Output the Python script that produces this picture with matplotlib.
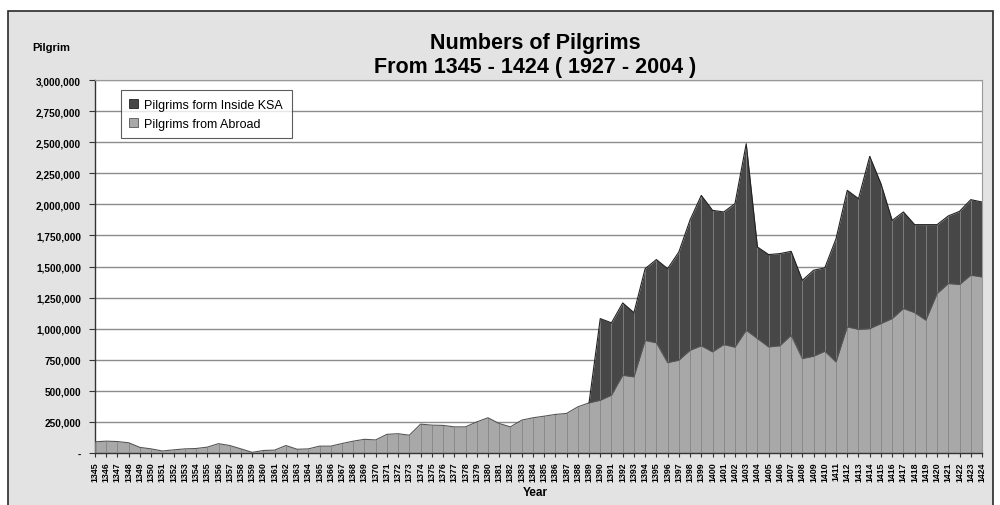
import matplotlib
matplotlib.use("Agg")
import matplotlib.pyplot as plt
from matplotlib.patches import Rectangle, Patch
from matplotlib.ticker import FuncFormatter
import numpy as np

plt.rcParams["font.family"] = ["Liberation Sans", "DejaVu Sans"]

YEARS = list(range(1345, 1425))

ABROAD = [
    90000, 95000, 92000, 82000, 45000, 33000, 16000, 25000, 33000, 36000,
    47000, 75000, 60000, 33000, 5000, 20000, 23000, 60000, 30000, 33000,
    55000, 55000, 76000, 95000, 110000, 105000, 150000, 155000, 143000, 232000,
    224000, 222000, 210000, 210000, 250000, 283000, 237000, 210000, 264000, 283000,
    296000, 310000, 318000, 371000, 403000, 424000, 465000, 625000, 612000, 905000,
    886000, 727000, 746000, 826000, 862000, 813000, 872000, 851000, 987000, 920000,
    853000, 862000, 947000, 760000, 778000, 818000, 733000, 1014000, 995000, 1000000,
    1041000, 1081000, 1162000, 1129000, 1068000, 1282000, 1363000, 1355000, 1430000, 1416000,
]

INSIDE_KSA = [0] * 45 + [
    657000, 582000, 582000, 517000, 578000, 670000, 756000, 871000, 1049000, 1210000,
    1139000, 1067000, 1155000, 1501000, 737000, 743000, 742000, 675000, 629000, 692000,
    671000, 991000, 1099000, 1051000, 1386000, 1125000, 790000, 777000, 708000, 769000,
    555000, 544000, 589000, 608000, 603000,
]

SERIES_NAMES = ["Pilgrims form Inside KSA", "Pilgrims from Abroad"]
TITLE = "Numbers of Pilgrims\nFrom 1345 - 1424 ( 1927 - 2004 )"

DARK = "#474747"
LIGHT = "#a8a8a8"

fig = plt.figure(figsize=(10, 5.06), dpi=100)
fig.patch.set_facecolor("white")
# grey chart frame
fig.patches.append(Rectangle((0.008, -0.01), 0.985, 0.987, transform=fig.transFigure,
                             facecolor="#e3e3e3", edgecolor="#2a2a2a", linewidth=1.2, zorder=-1))

ax = fig.add_axes([0.095, 0.1028, 0.887, 0.737])
ax.set_facecolor("white")

x = np.arange(len(YEARS))
abroad = np.array(ABROAD, dtype=float)
inside = np.array(INSIDE_KSA, dtype=float)
total = abroad + inside

ax.fill_between(x, 0, abroad, color=LIGHT, linewidth=0, zorder=2)
ax.fill_between(x, abroad, total, color=DARK, linewidth=0, zorder=2)
ax.vlines(x, 0, total, colors="#858585", linewidth=0.6, zorder=3)
ax.plot(x, abroad, color="#555555", linewidth=0.8, zorder=4)
ax.plot(x[44:], total[44:], color="#222222", linewidth=0.8, zorder=4)

ax.set_xlim(0, len(YEARS) - 1)
ax.set_ylim(0, 3000000)
ax.set_yticks(np.arange(0, 3000001, 250000))
ax.yaxis.set_major_formatter(FuncFormatter(lambda v, p: "-" if v == 0 else f"{int(v):,}"))
ax.yaxis.grid(True, color="#8c8c8c", linewidth=1.0, zorder=1)
ax.set_axisbelow(True)

ax.set_xticks(x)
ax.set_xticklabels([str(y) for y in YEARS], rotation=90, fontsize=6.4, fontweight="bold")
ax.tick_params(axis="x", length=3, width=0.8, pad=3, color="#333333")
ax.tick_params(axis="y", length=4, width=0.8, labelsize=7.2, color="#333333", pad=6)
for lbl in ax.get_yticklabels():
    lbl.set_fontweight("bold")

for side in ["top", "right"]:
    ax.spines[side].set_color("#999999")
for side in ["left", "bottom"]:
    ax.spines[side].set_color("#333333")
    ax.spines[side].set_linewidth(1.0)

handles = [Patch(facecolor=DARK, edgecolor="#222222", linewidth=0.6),
           Patch(facecolor=LIGHT, edgecolor="#555555", linewidth=0.6)]
leg = ax.legend(handles, SERIES_NAMES, loc="upper left", bbox_to_anchor=(0.026, 0.98),
                fontsize=9, frameon=True, fancybox=False, handlelength=0.7,
                handleheight=0.7, handletextpad=0.5, borderpad=0.7, labelspacing=0.55,
                borderaxespad=0.2)
leg.get_frame().set_edgecolor("#333333")
leg.get_frame().set_linewidth(0.8)
leg.set_zorder(10)

fig.text(0.535, 0.89, TITLE, ha="center", va="center", fontsize=15.5,
         fontweight="bold", linespacing=1.15)
fig.text(0.032, 0.905, "Pilgrim", ha="left", va="center", fontsize=8, fontweight="bold")
fig.text(0.535, 0.026, "Year", ha="center", va="center", fontsize=8.5, fontweight="bold")

fig.savefig("out.png", dpi=100)
